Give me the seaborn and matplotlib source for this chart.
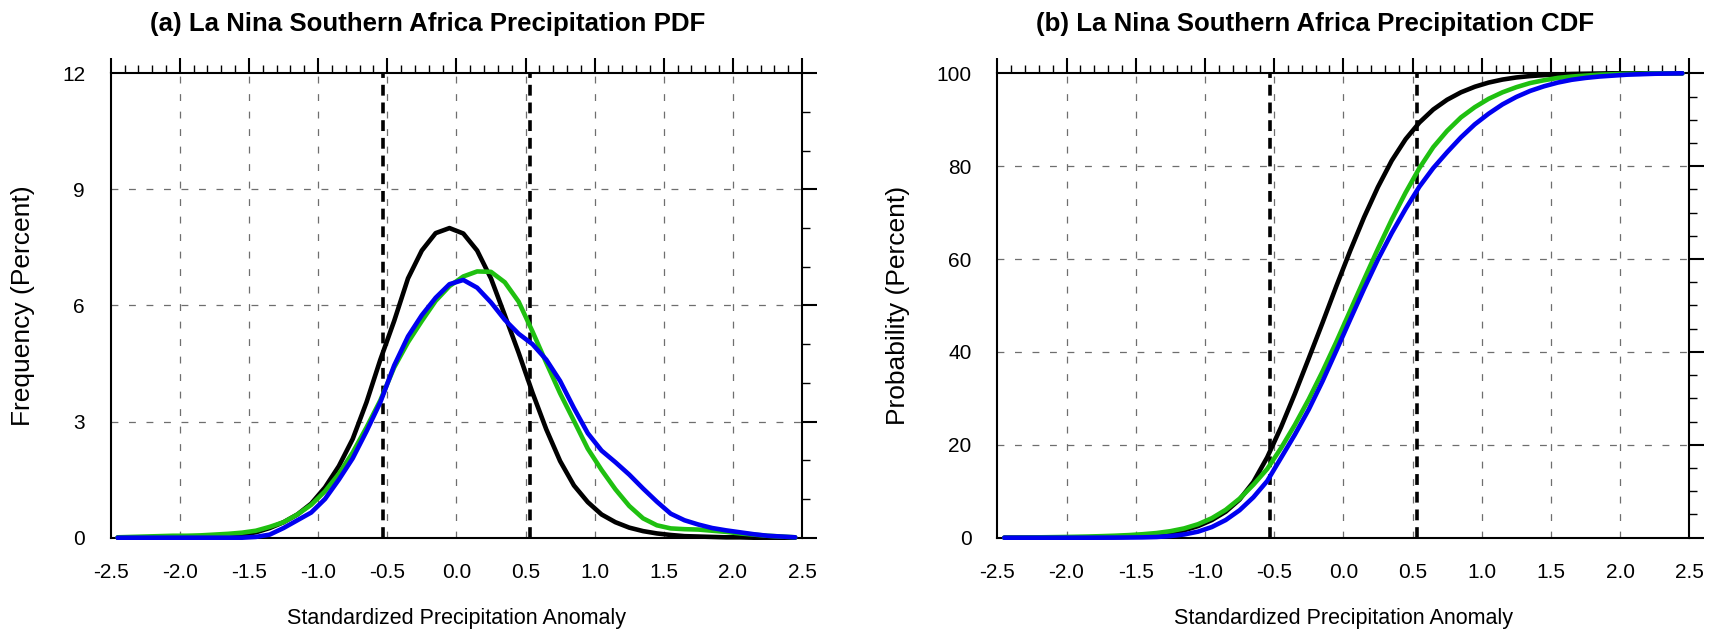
import numpy as np
import pandas as pd
import matplotlib
matplotlib.use("Agg")
import matplotlib.pyplot as plt
import seaborn as sns
from matplotlib.ticker import MultipleLocator

# ---- data -------------------------------------------------------------
# bin centres of the standardized anomaly (bin width 0.1)
anomaly = [-2.45, -2.35, -2.25, -2.15, -2.05, -1.95, -1.85, -1.75, -1.65, -1.55,
           -1.45, -1.35, -1.25, -1.15, -1.05, -0.95, -0.85, -0.75, -0.65, -0.55,
           -0.45, -0.35, -0.25, -0.15, -0.05, 0.05, 0.15, 0.25, 0.35, 0.45,
           0.55, 0.65, 0.75, 0.85, 0.95, 1.05, 1.15, 1.25, 1.35, 1.45,
           1.55, 1.65, 1.75, 1.85, 1.95, 2.05, 2.15, 2.25, 2.35, 2.45]

# frequency (percent) per bin
pdf_black = [0.0, 0.0, 0.0, 0.01, 0.01, 0.01, 0.02, 0.03, 0.05, 0.08,
             0.14, 0.25, 0.4, 0.6, 0.88, 1.3, 1.85, 2.55, 3.5, 4.6,
             5.6, 6.7, 7.42, 7.87, 8.0, 7.86, 7.42, 6.7, 5.75, 4.78,
             3.75, 2.8, 1.98, 1.35, 0.92, 0.6, 0.4, 0.26, 0.17, 0.11,
             0.07, 0.04, 0.03, 0.02, 0.01, 0.01, 0.0, 0.0, 0.0, 0.0]
pdf_green = [0.01, 0.02, 0.03, 0.04, 0.05, 0.05, 0.06, 0.08, 0.1, 0.13,
             0.18, 0.28, 0.4, 0.6, 0.85, 1.2, 1.65, 2.2, 2.85, 3.55,
             4.4, 5.05, 5.6, 6.12, 6.5, 6.75, 6.88, 6.87, 6.6, 6.1,
             5.33, 4.52, 3.73, 3.02, 2.3, 1.75, 1.25, 0.82, 0.5, 0.32,
             0.24, 0.22, 0.21, 0.18, 0.15, 0.11, 0.08, 0.05, 0.03, 0.01]
pdf_blue = [0.0, 0.0, 0.0, 0.0, 0.0, 0.0, 0.0, 0.0, 0.0, 0.0,
            0.02, 0.08, 0.25, 0.45, 0.65, 1.0, 1.5, 2.05, 2.75, 3.5,
            4.45, 5.2, 5.75, 6.2, 6.55, 6.66, 6.46, 6.08, 5.63, 5.27,
            5.0, 4.6, 4.05, 3.35, 2.7, 2.25, 1.95, 1.63, 1.27, 0.93,
            0.62, 0.45, 0.34, 0.25, 0.19, 0.14, 0.09, 0.05, 0.03, 0.01]

# cumulative probability (percent)
cdf_black = [0.0, 0.0, 0.0, 0.01, 0.02, 0.03, 0.05, 0.08, 0.12, 0.2,
             0.35, 0.6, 1.0, 1.6, 2.5, 3.8, 5.6, 8.2, 12.0, 17.3,
             23.8, 31.0, 38.6, 46.3, 54.2, 61.8, 69.0, 75.5, 81.2, 85.8,
             89.4, 92.2, 94.3, 95.9, 97.1, 98.0, 98.65, 99.1, 99.4, 99.6,
             99.75, 99.85, 99.9, 99.95, 100.0, 100.0, 100.0, 100.0, 100.0, 100.0]
cdf_green = [0.01, 0.03, 0.06, 0.1, 0.14, 0.19, 0.25, 0.33, 0.43, 0.56,
             0.75, 1.0, 1.4, 2.0, 2.9, 4.2, 6.0, 8.4, 11.4, 14.8,
             19.3, 24.3, 29.8, 35.8, 42.2, 48.9, 55.6, 62.2, 68.5, 74.3,
             79.6, 84.1, 87.6, 90.5, 92.7, 94.5, 95.9, 97.0, 97.9, 98.5,
             99.0, 99.3, 99.5, 99.7, 99.8, 99.9, 99.9, 100.0, 100.0, 100.0]
cdf_blue = [0.0, 0.0, 0.0, 0.0, 0.0, 0.0, 0.0, 0.01, 0.02, 0.04,
            0.07, 0.15, 0.35, 0.7, 1.3, 2.3, 3.8, 5.9, 8.7, 12.2,
            17.2, 22.2, 27.6, 33.7, 40.3, 47.0, 53.6, 59.9, 65.6, 70.8,
            75.6, 79.6, 83.0, 86.2, 89.0, 91.3, 93.3, 94.9, 96.2, 97.2,
            98.0, 98.6, 99.0, 99.3, 99.5, 99.7, 99.8, 99.9, 99.95, 100.0]

series_names = ["black", "green", "blue"]
series_colors = {"black": "#000000", "green": "#1fc010", "blue": "#0000f0"}

# reference thresholds
thresholds = [-0.53, 0.53]

x_ticks = [-2.5, -2.0, -1.5, -1.0, -0.5, 0.0, 0.5, 1.0, 1.5, 2.0, 2.5]
x_ticklabels = ["-2.5", "-2.0", "-1.5", "-1.0", "-0.5", "0.0", "0.5", "1.0", "1.5", "2.0", "2.5"]
pdf_yticks = [0, 3, 6, 9, 12]
cdf_yticks = [0, 20, 40, 60, 80, 100]

titles = ["(a) La Nina Southern Africa Precipitation PDF",
          "(b) La Nina Southern Africa Precipitation CDF"]
xlabel = "Standardized Precipitation Anomaly"
ylabels = ["Frequency (Percent)", "Probability (Percent)"]

pdf_df = pd.DataFrame({
    "anomaly": anomaly * 3,
    "value": pdf_black + pdf_green + pdf_blue,
    "series": [s for s in series_names for _ in anomaly],
})
cdf_df = pd.DataFrame({
    "anomaly": anomaly * 3,
    "value": cdf_black + cdf_green + cdf_blue,
    "series": [s for s in series_names for _ in anomaly],
})

# ---- style ------------------------------------------------------------
sns.set_style("white")
plt.rcParams["font.family"] = ["Liberation Sans", "DejaVu Sans"]
plt.rcParams["text.color"] = "black"
plt.rcParams["axes.labelcolor"] = "black"
plt.rcParams["xtick.color"] = "black"
plt.rcParams["ytick.color"] = "black"
plt.rcParams["axes.linewidth"] = 1.5

fig = plt.figure(figsize=(17.19, 6.34), dpi=100)
ax1 = fig.add_axes([0.0644, 0.1519, 0.4022, 0.7325])
ax2 = fig.add_axes([0.5802, 0.1519, 0.4025, 0.7325])


def style_axes(ax, df, yticks, ymax, yminor, ylabel, ylab_x):
    ax.set_axisbelow(True)
    # dashed grid at interior major ticks
    for xv in x_ticks[1:-1]:
        ax.axvline(xv, color="#6e6e6e", lw=0.9, ls=(0, (5.5, 8.5)), zorder=0.5)
    for yv in yticks[1:-1]:
        ax.axhline(yv, color="#6e6e6e", lw=0.9, ls=(0, (5.5, 8.5)), zorder=0.5)
    # threshold markers
    for t in thresholds:
        ax.axvline(t, color="black", lw=2.6, ls=(0, (3, 1.9)), zorder=1)

    sns.lineplot(data=df, x="anomaly", y="value", hue="series",
                 hue_order=series_names, palette=series_colors,
                 linewidth=3.3, legend=False, estimator=None, sort=False,
                 ax=ax, zorder=3)
    for ln in ax.lines:
        ln.set_clip_on(False)
        ln.set_solid_capstyle("round")
        ln.set_solid_joinstyle("round")

    ax.set_xlim(-2.5, 2.5)
    ax.set_ylim(0, ymax)
    ax.set_xticks(x_ticks)
    ax.set_xticklabels(x_ticklabels)
    ax.set_yticks(yticks)
    ax.set_yticklabels([str(v) for v in yticks])
    ax.xaxis.set_minor_locator(MultipleLocator(0.1))
    ax.yaxis.set_minor_locator(MultipleLocator(yminor))
    ax.tick_params(which="major", direction="out", length=10.5, width=1.5,
                   top=True, right=True, labelsize=15, pad=8, color="black")
    ax.tick_params(which="minor", direction="out", length=5.5, width=1.0,
                   top=True, right=True, color="black")
    for sp in ax.spines.values():
        sp.set_visible(True)
        sp.set_color("black")
        sp.set_linewidth(1.5)

    ax.set_xlabel(xlabel, fontsize=15.5)
    ax.set_ylabel(ylabel, fontsize=19)
    ax.xaxis.set_label_coords(0.5, -0.152)
    ax.yaxis.set_label_coords(ylab_x, 0.5)


style_axes(ax1, pdf_df, pdf_yticks, 12, 1, ylabels[0], -0.109)
style_axes(ax2, cdf_df, cdf_yticks, 100, 5, ylabels[1], -0.126)

# panel titles
fig.text(428 / 1719, 1 - 24 / 634, titles[0], ha="center", va="center",
         fontsize=18.6, fontweight="bold")
fig.text(1315 / 1719, 1 - 24 / 634, titles[1], ha="center", va="center",
         fontsize=18.6, fontweight="bold")

fig.savefig("out.png", dpi=100)
